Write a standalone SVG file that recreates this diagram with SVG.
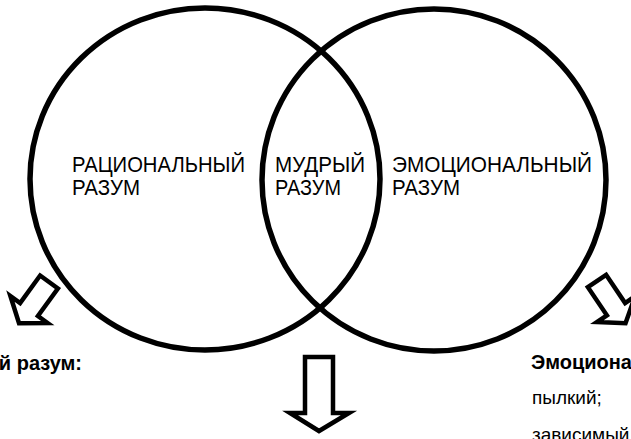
<svg xmlns="http://www.w3.org/2000/svg" width="631" height="439" viewBox="0 0 631 439">
  <style>
    .ring { fill: none; stroke: #000; stroke-width: 5.5; }
    .arrow { fill: #fff; stroke: #000; stroke-width: 4.5; stroke-linejoin: miter; }
    .label { font-family: "Liberation Sans", Arial, sans-serif; font-size: 22px; fill: #000; }
    .head { font-family: "Liberation Sans", Arial, sans-serif; font-size: 20px; font-weight: bold; fill: #000; }
    .item { font-family: "Liberation Sans", Arial, sans-serif; font-size: 19px; fill: #000; }
  </style>
  <defs>
    <!-- small hollow arrow, drawn pointing down from its shaft top -->
    <path id="smallArrow" d="M -11 0 L 11 0 L 11 34 L 23 34 L 0 51 L -23 34 L -11 34 Z"/>
  </defs>
  <rect width="631" height="439" fill="#fff"/>

  <g id="rational-mind">
    <ellipse class="ring" cx="205" cy="179" rx="175" ry="171"/>
    <text class="label" x="72" y="172" textLength="173" lengthAdjust="spacingAndGlyphs">РАЦИОНАЛЬНЫЙ</text>
    <text class="label" x="72" y="195" textLength="68" lengthAdjust="spacingAndGlyphs">РАЗУМ</text>
  </g>

  <g id="emotional-mind">
    <ellipse class="ring" cx="434" cy="180" rx="172" ry="171"/>
    <text class="label" x="392" y="172" textLength="200" lengthAdjust="spacingAndGlyphs">ЭМОЦИОНАЛЬНЫЙ</text>
    <text class="label" x="392" y="195" textLength="68" lengthAdjust="spacingAndGlyphs">РАЗУМ</text>
  </g>

  <g id="wise-mind">
    <text class="label" x="275" y="172" textLength="90" lengthAdjust="spacingAndGlyphs">МУДРЫЙ</text>
    <text class="label" x="275" y="195" textLength="66" lengthAdjust="spacingAndGlyphs">РАЗУМ</text>
  </g>

  <g id="connectors">
    <use href="#smallArrow" class="arrow" transform="translate(49 282) rotate(36)"/>
    <use href="#smallArrow" class="arrow" transform="translate(597 281) rotate(-34)"/>
    <path class="arrow" d="M 305 357 L 333 357 L 333 413 L 349 413 L 319 431 L 290 413 L 305 413 Z"/>
  </g>

  <g id="rational-notes">
    <text class="head" x="82" y="370" text-anchor="end">Рациональный разум:</text>
  </g>

  <g id="emotional-notes">
    <text class="head" x="531" y="369">Эмоциональный разум:</text>
    <text class="item" x="532" y="404">пылкий;</text>
    <text class="item" x="532" y="441">зависимый</text>
  </g>
</svg>
